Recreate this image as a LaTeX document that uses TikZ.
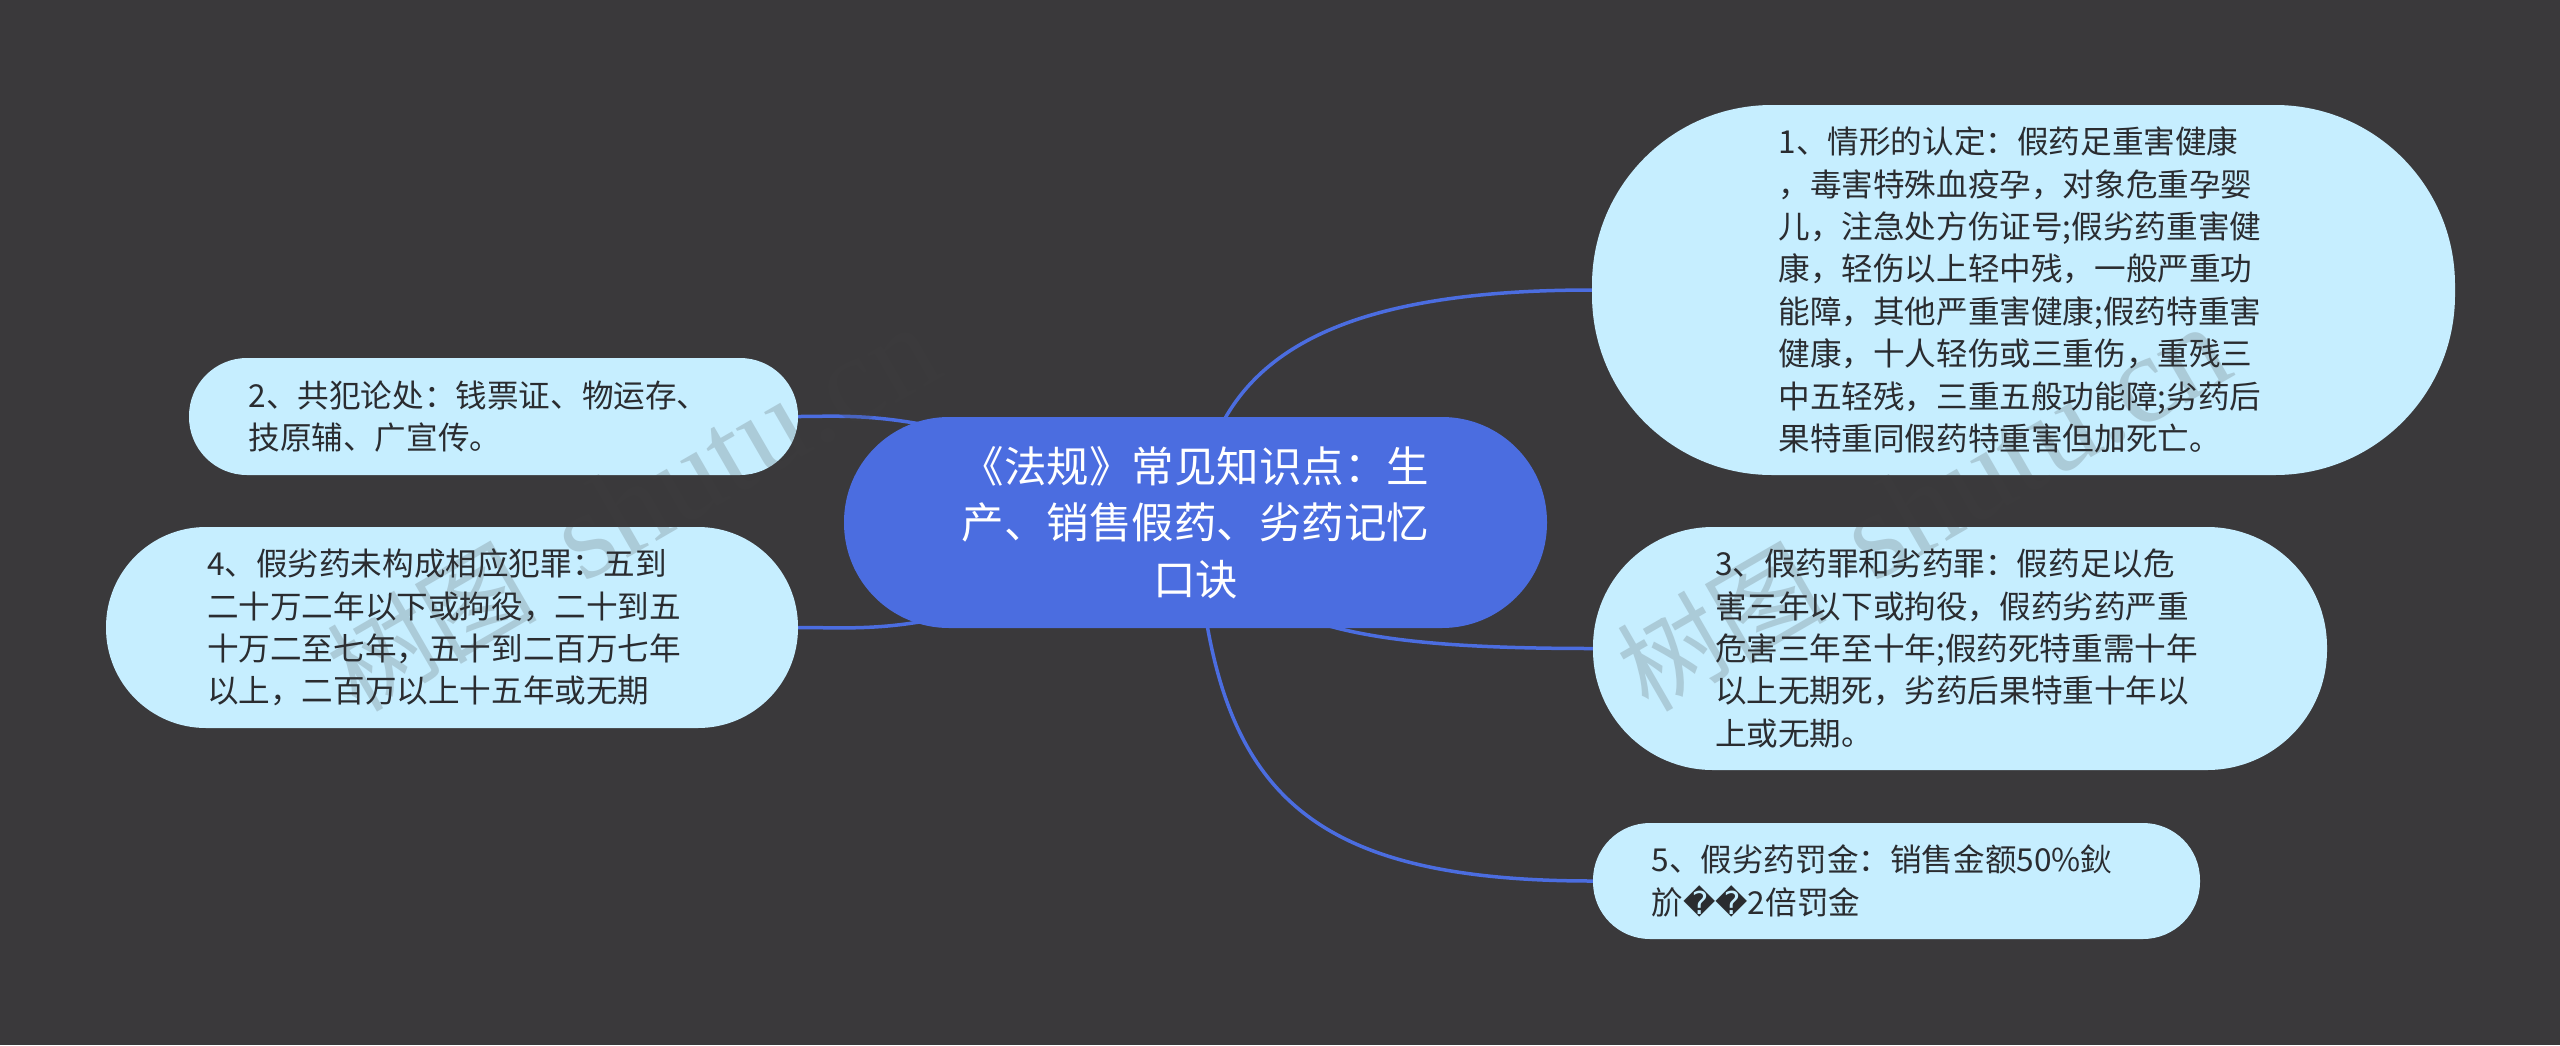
\documentclass[tikz,border=0pt]{standalone}
\usepackage{fontspec}
\setmainfont{Liberation Serif}
\newfontfamily\cjk{Noto Sans CJK SC}
\newfontfamily\djv{DejaVu Sans}
\newfontfamily\wmlatin{Liberation Serif}
\definecolor{bgdark}{HTML}{3A393B}
\definecolor{leaf}{HTML}{C6EEFF}
\definecolor{hub}{HTML}{4B6DE0}
\definecolor{inkdark}{HTML}{2A2C30}
\definecolor{wm}{HTML}{404040}
\pgfdeclarelayer{back}
\pgfdeclarelayer{links}
\pgfsetlayers{back,links,main}
\tikzset{
  leafbox/.style={draw=none,fill=leaf,text=inkdark,inner sep=0pt,align=left,text width=490pt,
    font=\cjk\fontsize{31.6}{42.4}\selectfont},
  hubbox/.style={draw=none,fill=hub,text=white,inner sep=0pt,align=center,text width=480pt,
    font=\cjk\fontsize{42.5}{56.5}\selectfont},
  link/.style={draw=hub,line width=3.5pt},
  wmark/.style={text=wm,opacity=0.2,text opacity=0.2,inner sep=0pt,rotate=30,anchor=base west,
    font=\cjk\fontsize{105}{120}\selectfont}
}
\begin{document}
\begin{tikzpicture}[x=1pt,y=-1pt]
\useasboundingbox (0,0) rectangle (2560,1045);
\begin{pgfonlayer}{back}
\fill[bgdark] (0,0) rectangle (2560,1045);
\end{pgfonlayer}

\node[hubbox,minimum width=703pt,minimum height=211pt,rounded corners=105pt] (c) at (1195.5,522.5)
 {《法规》常见知识点：生\\产、销售假药、劣药记忆\\口诀};

\node[leafbox,minimum width=863pt,minimum height=370pt,rounded corners=180pt] (n1) at (2023.5,290)
 {1、情形的认定：假药足重害健康\\，毒害特殊血疫孕，对象危重孕婴\\儿，注急处方伤证号;假劣药重害健\\康，轻伤以上轻中残，一般严重功\\能障，其他严重害健康;假药特重害\\健康，十人轻伤或三重伤，重残三\\中五轻残，三重五般功能障;劣药后\\果特重同假药特重害但加死亡。};

\node[leafbox,minimum width=734pt,minimum height=243pt,rounded corners=120pt] (n3) at (1960,648.5)
 {3、假药罪和劣药罪：假药足以危\\害三年以下或拘役，假药劣药严重\\危害三年至十年;假药死特重需十年\\以上无期死，劣药后果特重十年以\\上或无期。};

\node[leafbox,minimum width=607pt,minimum height=116pt,rounded corners=57pt] (n5) at (1896.5,881)
 {5、假劣药罚金：销售金额50\%鈥\\斺{\djv ��}2倍罚金};

\node[leafbox,minimum width=609pt,minimum height=117pt,rounded corners=58pt] (n2) at (493.5,416.5)
 {2、共犯论处：钱票证、物运存、\\技原辅、广宣传。};

\node[leafbox,minimum width=692pt,minimum height=201pt,rounded corners=100pt] (n4) at (452,627.5)
 {4、假劣药未构成相应犯罪：五到\\二十万二年以下或拘役，二十到五\\十万二至七年，五十到二百万七年\\以上，二百万以上十五年或无期};

\begin{pgfonlayer}{links}
\draw[link] (c.center) .. controls (1208,370) and (1310,290) .. (n1.west);
\draw[link] (c.center) .. controls (1250,620) and (1330,648.5) .. (n3.west);
\draw[link] (c.center) .. controls (1212,780) and (1290,881) .. (n5.west);
\draw[link] (c.center) .. controls (950,405) and (860,416.5) .. (n2.east);
\draw[link] (c.center) .. controls (950,640) and (880,627.5) .. (n4.east);
\end{pgfonlayer}

\node[wmark] (w1) at (358,714) {树图\hspace{50pt}{\wmlatin\fontsize{125}{130}\selectfont shutu.cn}};
\node[wmark] (w2) at (1648,714) {树图\hspace{50pt}{\wmlatin\fontsize{125}{130}\selectfont shutu.cn}};
\end{tikzpicture}
\end{document}
